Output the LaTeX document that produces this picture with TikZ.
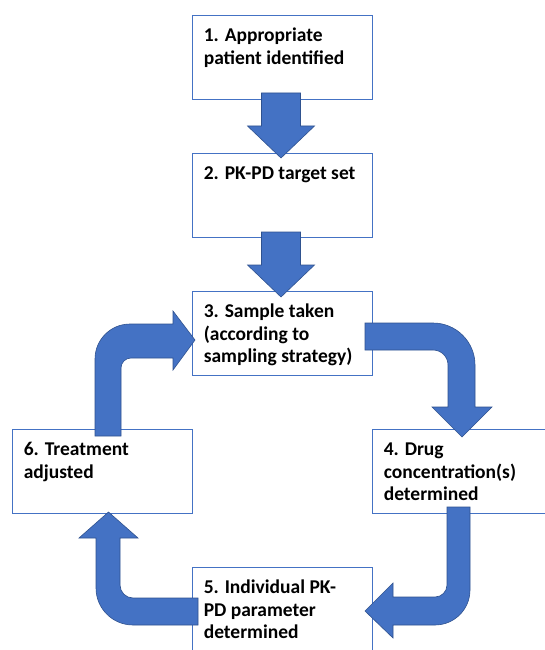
\documentclass[tikz,border=0pt]{standalone}
\usepackage{fontspec}
\setmainfont{Carlito}
\usetikzlibrary{calc}
\definecolor{boxblue}{RGB}{68,114,196}
\definecolor{arrowfill}{RGB}{68,114,196}
\definecolor{arrowline}{RGB}{47,82,143}
\begin{document}
\begin{tikzpicture}[x=1pt,y=1pt,yscale=-1,
  box/.style={draw=boxblue, line width=0.8pt, fill=white, minimum width=180pt, minimum height=84pt, inner sep=0pt, anchor=center},
  txt/.style={anchor=north west, inner sep=0pt, align=left, font=\fontsize{19.5}{22.5}\selectfont\bfseries},
  blockarrow/.style={fill=arrowfill, draw=arrowline, line width=0.6pt, line join=miter}]
\useasboundingbox (0,0) rectangle (545,650);
\fill[white] (0,0) rectangle (545,650);
% boxes
\node[box] (b1) at (282,57) {};
\node[box] (b2) at (282,195) {};
\node[box] (b3) at (282,333) {};
\node[box] (b6) at (102,471) {};
\node[box] (b4) at (462,471) {};
\node[box] (b5) at (282,609) {};
% straight arrows 1->2, 2->3
\draw[blockarrow] (261.5,93) -- (300.5,93) -- (300.5,126) -- (314.5,126) -- (281,158) -- (247.5,126) -- (261.5,126) -- cycle;
\draw[blockarrow] (261.5,232) -- (300.5,232) -- (300.5,265) -- (314.5,265) -- (281,297) -- (247.5,265) -- (261.5,265) -- cycle;
% 3 -> 4
\draw[blockarrow] (365,323) -- (433,323) arc[start angle=270, end angle=360, radius=42] -- (475,407) -- (492,407) -- (462,437) -- (432,407) -- (448,407) -- (448,365) arc[start angle=0, end angle=-90, radius=15] -- (365,350) -- cycle;
% 4 -> 5
\draw[blockarrow] (470,507) -- (470,590) arc[start angle=0, end angle=90, radius=35] -- (393,625) -- (393,638) -- (365,611) -- (393,583) -- (393,597) -- (435,597) arc[start angle=90, end angle=0, radius=12] -- (447,507) -- cycle;
% 5 -> 6
\draw[blockarrow] (198,598) -- (133,598) arc[start angle=90, end angle=180, radius=13] -- (120,538) -- (138,538) -- (108.5,512) -- (79,538) -- (96,538) -- (96,588) arc[start angle=180, end angle=90, radius=37] -- (198,625) -- cycle;
% 6 -> 3
\draw[blockarrow] (95,436) -- (95,359) arc[start angle=180, end angle=270, radius=35] -- (173,324) -- (173,311) -- (195,340) -- (173,370) -- (173,358) -- (131,358) arc[start angle=270, end angle=180, radius=10] -- (121,436) -- cycle;
% texts
\node[txt] (t1) at ($(b1.north west)+(12,11.25)$) {\strut 1. Appropriate\\patient identified};
\node[txt] (t2) at ($(b2.north west)+(12,11.25)$) {\strut 2. PK-PD target set};
\node[txt] (t3) at ($(b3.north west)+(12,11.25)$) {\strut 3. Sample taken\\(according to\\sampling strategy)};
\node[txt] (t4) at ($(b4.north west)+(12,11.25)$) {\strut 4. Drug\\concentration(s)\\determined};
\node[txt] (t5) at ($(b5.north west)+(12,11.25)$) {\strut 5. Individual PK-\\PD parameter\\determined};
\node[txt] (t6) at ($(b6.north west)+(12,11.25)$) {\strut 6. Treatment\\adjusted};
\end{tikzpicture}
\end{document}
